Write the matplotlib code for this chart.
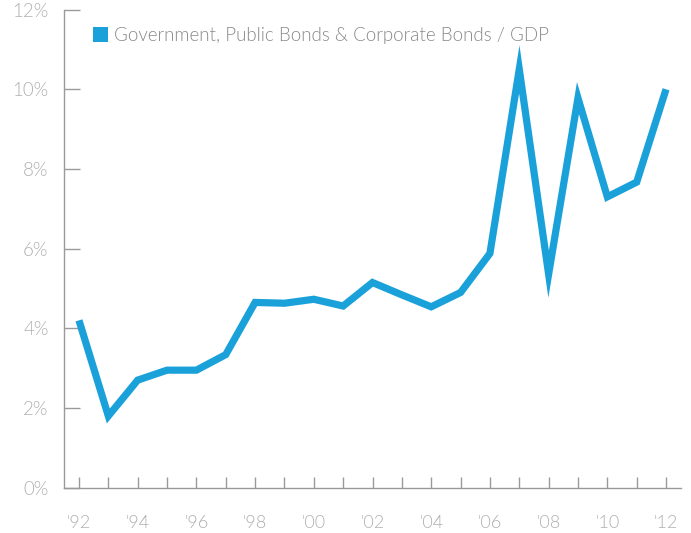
import matplotlib
matplotlib.use("Agg")
import matplotlib.pyplot as plt
from matplotlib.patches import Patch

years = list(range(1992, 2013))
ratio_pct = [4.2, 1.8, 2.7, 2.95, 2.95, 3.34, 4.65, 4.63, 4.73, 4.56, 5.15,
             4.84, 4.54, 4.9, 5.88, 10.5, 5.36, 9.78, 7.3, 7.67, 10.0]
series_name = "Government, Public Bonds & Corporate Bonds / GDP"
y_ticks = [0, 2, 4, 6, 8, 10, 12]
y_tick_labels = ["0%", "2%", "4%", "6%", "8%", "10%", "12%"]
x_label_years = list(range(1992, 2013, 2))
x_tick_labels = ["'92", "'94", "'96", "'98", "'00", "'02", "'04", "'06", "'08", "'10", "'12"]

line_color = "#1ba1da"
axis_color = "#9a9a9a"
label_color = "#b0b0b0"

plt.rcParams["font.family"] = ["Lato", "DejaVu Sans"]

fig = plt.figure(figsize=(6.91, 5.33), dpi=100)
ax = fig.add_axes([64 / 691, 45.3 / 533, 617 / 691, 478.1 / 533])

ax.plot(years, ratio_pct, color=line_color, linewidth=5.2,
        solid_joinstyle="miter", solid_capstyle="butt")

ax.set_xlim(1991.49, 2012.51)
ax.set_ylim(0, 12)

for side in ("top", "right"):
    ax.spines[side].set_visible(False)
for side in ("left", "bottom"):
    ax.spines[side].set_color(axis_color)
    ax.spines[side].set_linewidth(1.0)

ax.set_yticks(y_ticks)
ax.set_yticklabels(y_tick_labels)
ax.set_xticks(x_label_years, labels=x_tick_labels)
ax.set_xticks(years, minor=True)

ax.tick_params(axis="y", direction="in", length=11.5, width=1.0, color=axis_color,
               labelcolor=label_color, labelsize=13.5, pad=11)
ax.tick_params(axis="x", which="both", direction="in", length=8, width=1.0,
               color=axis_color, labelcolor=label_color, labelsize=13, pad=20)

for lbl in ax.get_xticklabels() + ax.get_yticklabels():
    lbl.set_fontweight(300)

handle = Patch(facecolor=line_color, edgecolor="none")
leg = ax.legend([handle], [series_name], loc="upper left",
                bbox_to_anchor=(76 / 691, 1 - 10 / 533),
                bbox_transform=fig.transFigure, frameon=False,
                handlelength=0.8, handleheight=0.8, handletextpad=0.35,
                prop={"size": 13.5, "weight": 300})
for t in leg.get_texts():
    t.set_color("#888888")

fig.savefig("out.png", dpi=100)
